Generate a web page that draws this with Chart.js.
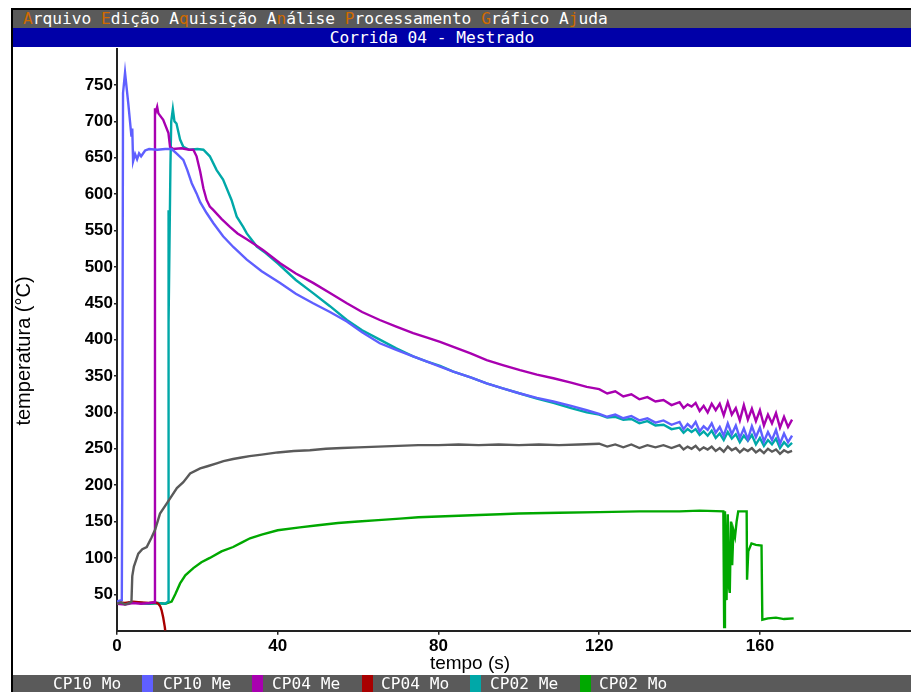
<!DOCTYPE html>
<html>
<head>
<meta charset="utf-8">
<script src="https://cdn.jsdelivr.net/npm/chart.js@4.4.1/dist/chart.umd.min.js"></script>
<style>
  html, body { margin:0; padding:0; background:#fff; }
  body { width:911px; height:692px; position:relative; overflow:hidden; }
  #c { position:absolute; left:0; top:0; }
  .abs { position:absolute; }
  .mono { font-family:'DejaVu Sans Mono', monospace; font-size:16.2px; color:#fff; white-space:pre; }
  .k { color:#d06a00; }
  .sw { position:absolute; top:0; width:11px; height:17px; }
  .lt { position:absolute; top:0; line-height:17px; }
</style>
</head>
<body>
<canvas id="c" width="911" height="692"></canvas>

<div class="abs" style="left:11px;top:8px;width:900px;height:2px;background:#000"></div>
<div class="abs" style="left:11px;top:8px;width:2px;height:684px;background:#000"></div>
<div class="abs mono" style="left:13px;top:10px;width:898px;height:18px;line-height:18px;background:#5a5a5a;padding-left:10px;box-sizing:border-box"><span class="k">A</span>rquivo <span class="k">E</span>dição A<span class="k">q</span>uisição A<span class="k">n</span>álise <span class="k">P</span>rocessamento <span class="k">G</span>ráfico A<span class="k">j</span>uda</div>
<div class="abs mono" style="left:13px;top:28px;width:898px;height:19px;line-height:19px;background:#0000a8;text-align:center;text-indent:-60px">Corrida 04 - Mestrado</div>

<div class="abs" style="left:-77px;top:339px;width:200px;height:24px;line-height:24px;text-align:center;transform:rotate(-90deg);font-family:'Liberation Sans',Arial,sans-serif;font-size:20px;color:#000">temperatura (°C)</div>
<div class="abs" style="left:370px;top:651px;width:200px;height:24px;line-height:24px;text-align:center;font-family:'Liberation Sans',Arial,sans-serif;font-size:19px;color:#000">tempo (s)</div>

<div id="legendBar" class="abs mono" style="left:13px;top:675px;width:898px;height:17px;background:#5a5a5a"></div>

<script>
// ---- series names / colours (legend order) ----
const seriesNames = ['CP10 Mo', 'CP10 Me', 'CP04 Me', 'CP04 Mo', 'CP02 Me', 'CP02 Mo'];
const seriesColors = ['#5a5a5a', '#5f5fff', '#a800b0', '#a80000', '#00a8a8', '#00a800'];

// ---- axis ticks ----
const xTickValues = [0, 40, 80, 120, 160];
const yTickValues = [50, 100, 150, 200, 250, 300, 350, 400, 450, 500, 550, 600, 650, 700, 750];

// shared time grid used for the noisy tail of the long records (s)
const tailTime = [120,122,124,126,128,130,132,134,136,138,
  140,141,142,143,144,145,146,147,148,149,150,151,152,153,154,155,156,157,158,159,160,161,162,163,164,165,166,167,168];

// ---- CP10 Mo (grey) ----
const cp10MoTime = [0,1,2,3,3.6,3.8,4.2,5.3,6.3,7.4, 8.6,9.5,10.7,12.4,14.9,16.5,18.2,20.7,22.5,24.8, 26.5,28.9,31,33,36,40,44,48,52,56, 60,65,70,75,80,85,90,95,100,105, 110,115];
const cp10MoTemp = [37,39,36,38,40,75,88,106,112,115, 128,139,161,175,196,204,216,223,226,230, 233,236,238,240,242,245,247,248,250,251, 252,253,254,255,255,256,255,256,255,256, 255,256];
const cp10MoTail = [257,253,256,252,256,251,255,252,255,251,
  255,249,253,250,254,248,252,249,253,247,251,246,253,248,251,245,250,247,251,245,249,244,250,246,249,243,248,245,247];

// ---- CP10 Me (blue) ----
const cp10MeTime = [0,1,1.2,1.3,1.5,2.0,2.8,3.6,3.8,4.0, 4.5,5.0,5.5,6.0,7.0,8,10,12,13.6,15, 16.5,17.5,18.6,19.8,20.7,22.3,24,26.4,29,32.3, 36,40.6,44.5,48.8,53,57.2,61,65.4,69.5,73.7, 77,80.4,83.7,88,92,96,100.3,104.5,108.6,113, 116.9];
const cp10MeTemp = [40,42,45,196,739,767,725,679,690,645, 655,648,656,652,660,662,661,662,662,655, 647,633,615,601,589,574,560,542,527,510, 494,478,463,450,438,425,410,395,386,377, 370,363,356,348,340,333,326,320,315,309, 303];
const cp10MeTail = [298,294,297,292,295,289,292,286,289,283,
  287,277,284,279,287,274,281,276,285,272,280,268,285,270,282,265,278,263,281,266,279,260,273,262,276,257,271,259,268];

// ---- CP04 Me (purple) ----
const cp04MeTime = [0,2,4,6,8,9.3,9.45,9.6,10.0,10.3, 11.5,12.8,13.2,14,16,18,19,19.8,20.7,21.5, 22.3,23.1,24,26,28.1,30,32.3,34.5,36.4,38.5, 40.6,44.5,48.8,53,57.2,61,65.4,69.5,73.7,77, 80.4,83.7,88,92,96,100.3,104.5,108.6,113,116.9];
const cp04MeTemp = [37,36,38,37,38,39,718,712,720,711, 702,684,665,662,663,661,661,652,631,608, 592,583,578,566,555,546,538,530,523,514, 505,491,478,464,450,438,427,418,409,403, 397,390,381,372,365,358,352,347,341,335];
const cp04MeTail = [332,326,329,322,325,318,321,315,317,310,
  314,306,311,308,313,302,309,300,312,303,312,296,314,297,306,289,310,290,305,288,303,282,297,285,299,279,294,280,290];

// ---- CP04 Mo (dark red) ----
const cp04MoTime = [0,2,4,6,8,9.5,10.3,10.8,11.1,11.5,11.9,12.0];
const cp04MoTemp = [39,38,40,39,38,39,37,33,28,18,5,0];

// ---- CP02 Me (teal) ----
const cp02MeTime = [0,2,4,6,8,10,12,12.7,12.75,12.85, 12.9,13.3,13.5,13.9,14.3,14.8,15.7,16.5,18,20, 21.5,23.1,24.8,26.4,28.5,29.8,31.4,32.3,34.8,37, 40,44.5,48.8,53,57.2,61,65.4,69.5,73.7,77, 80.4,83.7,88,92,96,100.3,104.5,108.6,113,116.9];
const cp02MeTemp = [38,37,39,38,37,38,37,40,578,575, 423,640,700,717,700,697,675,665,661,662, 661,652,633,620,592,569,555,546,528,519, 505,482,464,446,427,413,400,388,377,370, 364,356,348,340,333,326,319,313,306,300];
const cp02MeTail = [297,293,294,290,291,285,288,282,283,277,
  279,272,277,273,277,269,274,268,275,265,271,262,273,264,270,259,268,261,269,256,265,254,262,256,264,251,259,253,258];

// ---- CP02 Mo (green) ----
const cp02MoTime = [0,2,4,6,8,10,12,13.6,14.5,15.7, 17,19,21,23.1,26,28.9,31,33.1,36,40, 45.5,50,55,60,65,70.4,75,80,85,90, 95.3,100,110,120,130,140,145,150.9,151.1,151.3, 151.7,152.0,152.3,152.5,152.8,153.1,153.4,153.8,154.2,154.6, 156.7,156.8,157.1,157.9,159,160.4,160.6,162,164,166, 168.4];
const cp02MoTemp = [38,37,39,38,37,38,37,40,50,65, 76,86,94,100,109,115,121,127,132,138, 142,145,148,150,152,154,156,157,158,159, 160,161,162,163,164,164,165,164,5,164, 42,160,60,52,150,90,138,129,150,164, 164,70,109,120,118,117,15,17,18,16, 17];

const seriesTimes = [cp10MoTime.concat(tailTime), cp10MeTime.concat(tailTime), cp04MeTime.concat(tailTime), cp04MoTime, cp02MeTime.concat(tailTime), cp02MoTime];
const seriesTemps = [cp10MoTemp.concat(cp10MoTail), cp10MeTemp.concat(cp10MeTail), cp04MeTemp.concat(cp04MeTail), cp04MoTemp, cp02MeTemp.concat(cp02MeTail), cp02MoTemp];

// ---- legend bar (HTML text) ----
const legendTextX = [40, 150, 259, 368, 477, 586];
const legendSwatchX = [null, 129, 239, 349, 457, 567];
const bar = document.getElementById('legendBar');
seriesNames.forEach((n, i) => {
  if (legendSwatchX[i] !== null) {
    const s = document.createElement('div');
    s.className = 'sw'; s.style.left = legendSwatchX[i] + 'px'; s.style.background = seriesColors[i];
    bar.appendChild(s);
  }
  const t = document.createElement('div');
  t.className = 'lt'; t.style.left = legendTextX[i] + 'px'; t.textContent = n;
  bar.appendChild(t);
});

const datasets = seriesNames.map((n, i) => ({
  label: n,
  data: seriesTimes[i].map((t, j) => ({ x: t, y: seriesTemps[i][j] })),
  borderColor: seriesColors[i],
  backgroundColor: seriesColors[i],
  borderWidth: 2.4,
  pointRadius: 0,
  tension: 0,
  fill: false
}));

const tickFont = { family: "'Liberation Sans', Arial, sans-serif", size: 17, weight: 'bold' };

new Chart(document.getElementById('c'), {
  type: 'line',
  data: { datasets },
  options: {
    responsive: false,
    animation: false,
    layout: { padding: { left: 12, top: 48.6, right: 0, bottom: 17 } },
    plugins: { legend: { display: false }, tooltip: { enabled: false }, title: { display: false } },
    scales: {
      x: {
        type: 'linear', min: 0, max: 197.6,
        afterFit(s) { s.height = 44.3; },
        ticks: {
          stepSize: 40, autoSkip: false, maxRotation: 0, color: '#000', font: tickFont, padding: 1,
          callback: v => xTickValues.includes(v) ? String(v) : null
        },
        grid: { drawOnChartArea: false, drawTicks: true, tickLength: 4, color: '#222', lineWidth: 1.5 },
        border: { display: true, color: '#222', width: 2 }
      },
      y: {
        type: 'linear', min: 0, max: 800,
        afterFit(s) { s.width = 105; },
        ticks: {
          stepSize: 50, autoSkip: false, color: '#000', font: tickFont, padding: 1,
          callback: v => yTickValues.includes(v) ? String(v) : null
        },
        grid: { drawOnChartArea: false, drawTicks: true, tickLength: 3, color: '#222', lineWidth: 1.5 },
        border: { display: true, color: '#222', width: 2 }
      }
    }
  }
});
</script>
</body>
</html>
